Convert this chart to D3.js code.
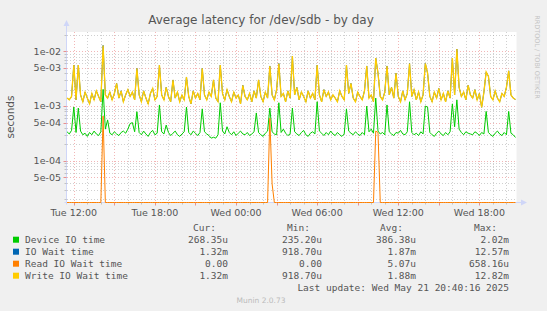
<!DOCTYPE html>
<html>
<head>
<meta charset="utf-8">
<script src="https://cdn.jsdelivr.net/npm/d3@7"></script>
<style>
html, body { margin: 0; padding: 0; background: #f0f0f0; }
svg { display: block; }
text { font-family: "DejaVu Sans", sans-serif; fill: #555; }
.mono { font-family: "DejaVu Sans Mono", monospace; font-size: 9.5px; }
</style>
</head>
<body>
<svg id="chart" width="547" height="311"></svg>
<script>
// samples every 10 minutes, first one Tue May 20 11:30 (UTC used for layout only)
const startTime = Date.UTC(2025, 4, 20, 11, 30);
const stepMinutes = 10;

// Device IO time, microseconds
const deviceIO = [
  340, 310, 360, 960, 330, 920, 350, 300, 320, 280, 330, 300, 350, 310, 290, 340, 2020, 380, 560, 320,
  300, 340, 310, 290, 330, 350, 320, 380, 480, 500, 340, 790, 330, 300, 350, 310, 280, 330, 360, 300,
  320, 1050, 340, 310, 450, 330, 290, 320, 350, 300, 280, 310, 340, 960, 330, 300, 350, 320, 290, 330,
  890, 340, 310, 290, 260, 270, 260, 300, 1150, 350, 310, 420, 330, 300, 340, 290, 320, 350, 310, 300,
  330, 290, 310, 340, 750, 330, 300, 280, 320, 350, 920, 340, 310, 300, 1150, 330, 380, 320, 290, 310,
  920, 340, 310, 290, 330, 360, 300, 280, 320, 340, 310, 1200, 350, 320, 290, 330, 300, 350, 310, 290,
  330, 300, 280, 310, 890, 350, 320, 300, 340, 310, 290, 330, 300, 1000, 340, 380, 320, 1400, 350, 310,
  330, 300, 1050, 340, 310, 290, 330, 320, 360, 310, 300, 340, 1200, 330, 300, 320, 290, 340, 310, 1000,
  960, 330, 300, 280, 320, 350, 310, 290, 330, 300, 340, 1100, 420, 1300, 380, 330, 300, 340, 320, 310,
  300, 340, 320, 290, 330, 310, 800, 330, 300, 280, 320, 350, 310, 290, 330, 300, 800, 320, 300, 268
];

// Write IO Wait time, milliseconds (IO Wait time sits right under it)
const writeWait = [
  1.4, 1.3, 1.5, 5.6, 1.3, 5.6, 1.6, 1.2, 1.8, 1.4, 1.1, 1.7, 1.3, 1.9, 1.5, 1.2, 12.8, 1.6, 1.4, 1.8,
  1.3, 1.7, 2.6, 1.4, 1.9, 1.2, 1.6, 2.0, 1.5, 1.8, 1.3, 4.9, 1.6, 1.2, 1.9, 1.4, 1.1, 1.7, 2.1, 1.3,
  1.5, 5.6, 1.6, 1.3, 2.2, 1.5, 1.2, 3.0, 1.4, 1.8, 1.2, 1.6, 1.3, 3.4, 1.5, 1.1, 1.9, 1.4, 1.7, 1.3,
  4.9, 1.6, 1.3, 1.8, 1.5, 3.0, 1.4, 1.2, 5.6, 1.7, 1.3, 2.0, 1.5, 1.2, 1.8, 1.4, 1.6, 1.1, 2.4, 1.5,
  1.3, 1.7, 1.2, 1.9, 1.4, 3.0, 1.5, 1.2, 1.8, 1.4, 5.4, 1.6, 1.3, 2.0, 6.0, 1.5, 1.7, 1.2, 1.9, 1.4,
  8.2, 1.6, 2.2, 1.3, 1.8, 1.5, 1.2, 1.9, 1.4, 1.7, 1.3, 5.6, 1.6, 1.2, 2.0, 1.5, 1.8, 1.3, 1.6, 1.4,
  1.2, 1.9, 1.5, 1.3, 5.6, 1.7, 2.6, 1.4, 1.2, 1.8, 1.5, 1.3, 1.9, 5.4, 1.4, 1.6, 1.2, 7.5, 4.0, 1.5,
  1.3, 1.8, 5.4, 1.6, 2.2, 1.4, 4.0, 1.5, 1.2, 1.9, 1.3, 1.7, 6.0, 1.5, 2.0, 1.3, 1.8, 1.2, 1.6, 6.0,
  4.0, 1.5, 1.2, 1.8, 1.4, 2.1, 1.3, 1.7, 1.2, 1.9, 1.4, 7.5, 1.6, 11.0, 2.2, 1.5, 1.8, 1.3, 2.4, 1.6,
  1.4, 2.0, 1.3, 1.7, 0.95, 1.8, 4.2, 3.5, 1.5, 1.3, 1.9, 1.4, 1.2, 1.7, 1.5, 2.2, 4.4, 1.6, 1.4, 1.32
];

// Read IO Wait time: zero everywhere except these samples [index, microseconds]
const readSpikes = [[16, 658], [90, 600], [91, 38], [137, 350], [138, 330]];

const yTickValues = [1e-2, 5e-3, 1e-3, 5e-4, 1e-4, 5e-5];

const legendNames = ["Device IO time", "IO Wait time", "Read IO Wait time", "Write IO Wait time"];
const legendColors = ["#00cc00", "#0066b3", "#ff8000", "#ffcc00"];
const curValues = ["268.35u", "1.32m", "0.00", "1.32m"];
const minValues = ["235.20u", "918.70u", "0.00", "918.70u"];
const avgValues = ["386.38u", "1.87m", "5.07u", "1.88m"];
const maxValues = ["2.02m", "12.57m", "658.16u", "12.82m"];

// ---------------------------------------------------------------------------
const svg = d3.select("#chart");
const plot = { left: 66.5, right: 516.5, top: 32, bottom: 202.5 };

const timeAt = i => new Date(startTime + i * stepMinutes * 60000);

const deviceSeries = deviceIO.map((v, i) => ({ t: timeAt(i), v: v * 1e-6 }));
const writeSeries = writeWait.map((v, i) => ({ t: timeAt(i), v: v * 1e-3 }));
const readSeries = deviceIO.map((_, i) => ({ t: timeAt(i), v: 0 }));
readSpikes.forEach(([i, v]) => { readSeries[i].v = v * 1e-6; });

const x = d3.scaleUtc()
    .domain([new Date(Date.UTC(2025, 4, 20, 11, 27, 36)), new Date(Date.UTC(2025, 4, 21, 20, 44, 38))])
    .range([plot.left, plot.right]);

// decades measured on the picture, then stretched to the plot edges
const yRef = d3.scaleLog().domain([1e-4, 1e-2]).range([160.9, 51.3]);
const y = d3.scaleLog()
    .domain([yRef.invert(plot.bottom), yRef.invert(plot.top)])
    .range([plot.bottom, plot.top])
    .clamp(true);

// plot background
svg.append("rect")
    .attr("x", plot.left).attr("y", plot.top)
    .attr("width", plot.right - plot.left).attr("height", plot.bottom - plot.top)
    .attr("fill", "#fff");

// y grid: every integer multiple, red at 1 and 5
const yGrid = [];
for (let e = -5; e <= -2; e++) {
    for (let m = 1; m <= 9; m++) {
        const v = m * Math.pow(10, e);
        if (v >= y.domain()[0] && v <= y.domain()[1]) yGrid.push({ v, major: m === 1 || m === 5 });
    }
}
const xGrid = d3.utcHour.every(1).range(x.domain()[0], x.domain()[1])
    .map(t => ({ t, major: t.getUTCHours() % 3 === 0 }));

const minorColor = "rgba(150,150,150,0.45)";
const majorColor = "rgba(225,80,80,0.42)";

const grid = svg.append("g").attr("stroke-width", 1).attr("stroke-dasharray", "1,2").attr("shape-rendering", "crispEdges");

grid.selectAll(".ymin").data(yGrid.filter(d => !d.major)).enter().append("line")
    .attr("x1", plot.left).attr("x2", plot.right)
    .attr("y1", d => Math.round(y(d.v)) + 0.5).attr("y2", d => Math.round(y(d.v)) + 0.5)
    .attr("stroke", minorColor);
grid.selectAll(".xmin").data(xGrid.filter(d => !d.major)).enter().append("line")
    .attr("x1", d => Math.round(x(d.t)) + 0.5).attr("x2", d => Math.round(x(d.t)) + 0.5)
    .attr("y1", plot.top).attr("y2", plot.bottom)
    .attr("stroke", minorColor);
grid.selectAll(".ymaj").data(yGrid.filter(d => d.major)).enter().append("line")
    .attr("x1", plot.left).attr("x2", plot.right)
    .attr("y1", d => Math.round(y(d.v)) + 0.5).attr("y2", d => Math.round(y(d.v)) + 0.5)
    .attr("stroke", majorColor);
grid.selectAll(".xmaj").data(xGrid.filter(d => d.major)).enter().append("line")
    .attr("x1", d => Math.round(x(d.t)) + 0.5).attr("x2", d => Math.round(x(d.t)) + 0.5)
    .attr("y1", plot.top).attr("y2", plot.bottom)
    .attr("stroke", majorColor);

// axes with arrows
const axisColor = "#cfd6f8";
svg.append("line").attr("x1", plot.left).attr("x2", plot.left).attr("y1", plot.bottom + 2).attr("y2", 25)
    .attr("stroke", axisColor);
svg.append("path").attr("d", `M${plot.left - 3},26 L${plot.left},20 L${plot.left + 3},26 Z`).attr("fill", axisColor);
svg.append("line").attr("x1", plot.left - 2).attr("x2", 522).attr("y1", plot.bottom).attr("y2", plot.bottom)
    .attr("stroke", axisColor);
svg.append("path").attr("d", `M521,${plot.bottom - 3} L527,${plot.bottom} L521,${plot.bottom + 3} Z`).attr("fill", axisColor);

// axis ticks
svg.append("g").selectAll("line").data(xGrid).enter().append("line")
    .attr("x1", d => Math.round(x(d.t)) + 0.5).attr("x2", d => Math.round(x(d.t)) + 0.5)
    .attr("y1", plot.bottom).attr("y2", d => plot.bottom + (d.major ? 3 : 2))
    .attr("stroke", d => d.major ? "rgba(225,80,80,0.6)" : "rgba(150,150,150,0.5)");
svg.append("g").selectAll("line").data(yGrid).enter().append("line")
    .attr("x1", plot.left).attr("x2", d => plot.left - (d.major ? 3 : 2))
    .attr("y1", d => Math.round(y(d.v)) + 0.5).attr("y2", d => Math.round(y(d.v)) + 0.5)
    .attr("stroke", d => d.major ? "rgba(225,80,80,0.6)" : "rgba(150,150,150,0.5)");

// tick labels
const fmtExp = v => {
    const [m, e] = v.toExponential(0).split("e");
    const n = Math.abs(+e);
    return `${m}e${+e < 0 ? "-" : "+"}${n < 10 ? "0" + n : n}`;
};
svg.append("g").selectAll("text").data(yTickValues).enter().append("text")
    .attr("x", 61).attr("y", d => y(d)).attr("dy", "0.35em")
    .attr("text-anchor", "end").attr("font-size", "9.5px")
    .text(fmtExp);

const xLabelTicks = d3.utcHour.every(6).range(x.domain()[0], x.domain()[1]);
const fmtTime = d3.utcFormat("%a %H:%M");
svg.append("g").selectAll("text").data(xLabelTicks).enter().append("text")
    .attr("x", d => x(d)).attr("y", 216)
    .attr("text-anchor", "middle").attr("font-size", "9.5px")
    .text(fmtTime);

// data lines
const line = d3.line()
    .x(d => x(d.t))
    .y(d => y(Math.max(d.v, y.domain()[0])));

const drawLine = (data, color, w) => svg.append("path")
    .datum(data)
    .attr("fill", "none")
    .attr("stroke", color)
    .attr("stroke-width", w)
    .attr("d", line);

drawLine(deviceSeries, legendColors[0], 1);
drawLine(writeSeries, legendColors[1], 1);
drawLine(readSeries, legendColors[2], 1);
drawLine(writeSeries, legendColors[3], 1.3);

// titles
svg.append("text").attr("x", 261).attr("y", 24).attr("text-anchor", "middle")
    .attr("font-size", "12px").text("Average latency for /dev/sdb - by day");
svg.append("text").attr("transform", "translate(14,117) rotate(-90)").attr("text-anchor", "middle")
    .attr("font-size", "10.5px").text("seconds");
svg.append("text").attr("transform", "translate(535,57) rotate(90)").attr("text-anchor", "middle")
    .attr("font-size", "6.5px").style("fill", "#c4c4c4").text("RRDTOOL / TOBI OETIKER");

// legend
const colRight = [228, 322, 416, 509];
const headers = ["Cur:", "Min:", "Avg:", "Max:"];
const headerRight = [216, 310, 403, 497];
const legend = svg.append("g");
headers.forEach((h, i) => {
    legend.append("text").attr("class", "mono").attr("x", headerRight[i]).attr("y", 231)
        .attr("text-anchor", "end").text(h);
});
legendNames.forEach((name, r) => {
    const cy = 239.7 + r * 12;
    legend.append("rect").attr("x", 13).attr("y", cy - 3).attr("width", 6).attr("height", 6)
        .attr("fill", legendColors[r]);
    legend.append("text").attr("class", "mono").attr("x", 25).attr("y", cy + 3.5).text(name);
    [curValues, minValues, avgValues, maxValues].forEach((col, c) => {
        legend.append("text").attr("class", "mono").attr("x", colRight[c]).attr("y", cy + 3.5)
            .attr("text-anchor", "end").text(col[r]);
    });
});
legend.append("text").attr("class", "mono").attr("x", 509).attr("y", 291)
    .attr("text-anchor", "end").text("Last update: Wed May 21 20:40:16 2025");
svg.append("text").attr("x", 261).attr("y", 303).attr("text-anchor", "middle")
    .attr("font-size", "7.5px").style("fill", "#bbb").text("Munin 2.0.73");
</script>
</body>
</html>
